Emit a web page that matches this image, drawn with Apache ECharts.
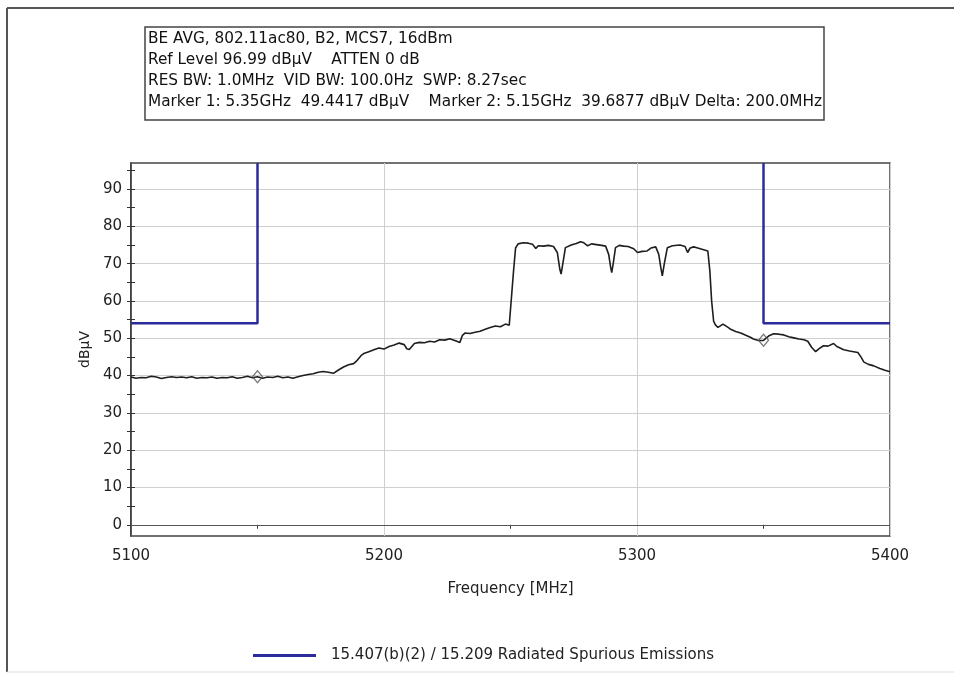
<!DOCTYPE html>
<html>
<head>
<meta charset="utf-8">
<script src="https://cdn.jsdelivr.net/npm/echarts@6/dist/echarts.min.js"></script>
<style>
  html, body { margin: 0; padding: 0; background: #fff; }
  #chart { width: 954px; height: 675px; }
</style>
</head>
<body>
<div id="chart"></div>
<script>
// Measured trace: frequency (MHz) and level (dBµV)
const traceFreq = [
  5100, 5102, 5104, 5106, 5108, 5110, 5112, 5114, 5116, 5118,
  5120, 5122, 5124, 5126, 5128, 5130, 5132, 5134, 5136, 5138,
  5140, 5142, 5144, 5146, 5148, 5150, 5152, 5154, 5156, 5158,
  5160, 5162, 5164, 5166, 5168, 5170, 5172, 5174, 5176, 5178,
  5180, 5182, 5184, 5186, 5188, 5189, 5190, 5191, 5192, 5194,
  5196, 5198, 5200, 5202, 5204, 5206, 5208, 5209, 5210, 5212,
  5214, 5216, 5218, 5220, 5222, 5224, 5226, 5228, 5230, 5231,
  5232, 5234, 5236, 5238, 5240, 5242, 5244, 5246, 5248, 5249.5,
  5250.5, 5251.2, 5252, 5253, 5255, 5257, 5258.7, 5260, 5261, 5263,
  5265, 5267, 5268.5, 5269.5, 5270, 5270.8, 5271.7, 5274, 5276, 5277.7,
  5279, 5280.5, 5282, 5284, 5286, 5287.6, 5288.8, 5289.6, 5290, 5290.6,
  5291.5, 5293, 5294.7, 5296.5, 5298.7, 5300.2, 5302, 5304, 5305.5, 5307.4,
  5308.6, 5309.4, 5310, 5310.8, 5312, 5314, 5317, 5319, 5320, 5321,
  5322.4, 5324, 5326, 5328, 5328.8, 5329.5, 5330.3, 5331, 5332, 5334,
  5336, 5337, 5339, 5341, 5343, 5345, 5346, 5348, 5350, 5352,
  5354, 5356, 5358, 5360, 5362, 5364, 5366, 5367.5, 5369, 5370.6,
  5372, 5373.7, 5375.5, 5377.7, 5379, 5381.7, 5384, 5387.3, 5388.5, 5389.7,
  5391.5, 5393.6, 5396, 5398, 5400
];
const traceLevel = [
  39.6, 39.3, 39.5, 39.4, 39.8, 39.6, 39.2, 39.5, 39.7, 39.5,
  39.6, 39.4, 39.7, 39.3, 39.5, 39.4, 39.6, 39.3, 39.5, 39.4,
  39.7, 39.3, 39.5, 39.8, 39.4, 39.69, 39.3, 39.6, 39.5, 39.8,
  39.4, 39.6, 39.3, 39.7, 40.0, 40.3, 40.5, 40.9, 41.1, 40.9,
  40.6, 41.5, 42.3, 42.9, 43.2, 43.8, 44.6, 45.4, 45.9, 46.4,
  46.9, 47.4, 47.1, 47.8, 48.2, 48.7, 48.3, 47.2, 47.0, 48.6,
  48.9, 48.8, 49.2, 49.0, 49.6, 49.5, 49.9, 49.4, 48.9, 50.8,
  51.4, 51.3, 51.6, 51.9, 52.4, 52.9, 53.3, 53.1, 53.8, 53.5,
  62.0, 68.0, 74.2, 75.3, 75.6, 75.5, 75.2, 74.1, 74.8, 74.7,
  74.9, 74.6, 73.0, 68.5, 67.2, 70.5, 74.3, 75.0, 75.4, 75.9,
  75.6, 74.8, 75.3, 75.1, 74.9, 74.7, 72.5, 69.0, 67.6, 70.0,
  74.3, 74.9, 74.7, 74.6, 74.0, 73.0, 73.3, 73.4, 74.2, 74.5,
  72.5, 69.0, 66.7, 70.0, 74.3, 74.8, 75.0, 74.6, 73.0, 74.2,
  74.5, 74.2, 73.8, 73.4, 68.0, 60.0, 54.5, 53.6, 52.9, 53.8,
  52.9, 52.4, 51.8, 51.4, 50.8, 50.2, 49.8, 49.4, 49.44, 50.6,
  51.2, 51.1, 50.9, 50.4, 50.1, 49.8, 49.6, 49.2, 47.6, 46.4,
  47.2, 48.0, 47.9, 48.6, 47.8, 46.9, 46.6, 46.2, 45.0, 43.6,
  43.0, 42.6, 41.9, 41.4, 41.0
];

// Restricted-band limit (15.407(b)(2) / 15.209): 54 dBµV outside 5150–5350 MHz
const limitName = '15.407(b)(2) / 15.209 Radiated Spurious Emissions';
const limitLowFreq = [5100, 5150, 5150];
const limitLowLevel = [54, 54, 96.99];
const limitHighFreq = [5350, 5350, 5400];
const limitHighLevel = [96.99, 54, 54];

// Markers
const markerFreq = [5350, 5150];
const markerLevel = [49.4417, 39.6877];

// Axis scale and tick labels
const refLevel = 96.99;
const bottomLevel = -3.01;
const yLabelValues = [0, 10, 20, 30, 40, 50, 60, 70, 80, 90];
const yMinorInValues = [0, 5, 10, 15, 20, 25, 30, 35, 40, 45, 50, 55, 60, 65, 70, 75, 80, 85, 90, 95];
const yMinorOutValues = [5, 15, 25, 35, 45, 55, 65, 75, 85, 95];
const xMin = 5100, xMax = 5400, xStep = 100;

// Instrument settings block
const infoLines = [
  'BE AVG, 802.11ac80, B2, MCS7, 16dBm',
  'Ref Level 96.99 dBµV    ATTEN 0 dB',
  'RES BW: 1.0MHz  VID BW: 100.0Hz  SWP: 8.27sec',
  'Marker 1: 5.35GHz  49.4417 dBµV    Marker 2: 5.15GHz  39.6877 dBµV Delta: 200.0MHz'
];

const pair = (xs, ys) => xs.map((x, i) => [x, ys[i]]);
const FONT = '"DejaVu Sans", "Liberation Sans", Arial, sans-serif';
const LIMIT_COLOR = '#2b2b9c';

const chart = echarts.init(document.getElementById('chart'), null, { renderer: 'canvas' });

const yCommon = {
  type: 'value', min: bottomLevel, max: refLevel, position: 'left',
  axisLine: { show: false }, axisLabel: { show: false }, splitLine: { show: false }
};

chart.setOption({
  animation: false,
  backgroundColor: '#fff',
  textStyle: { fontFamily: FONT },
  grid: {
    left: 131, right: 64, top: 163, bottom: 139,
    show: true, borderColor: '#444', borderWidth: 1.5, backgroundColor: 'transparent'
  },
  legend: {
    data: [limitName],
    left: 253, top: 648, padding: 0,
    icon: 'rect', itemWidth: 63, itemHeight: 3, itemGap: 18,
    textStyle: { fontFamily: FONT, fontSize: 15, color: '#222', padding: [0, 0, 0, 10] }
  },
  xAxis: {
    type: 'value', min: xMin, max: xMax, interval: xStep,
    name: 'Frequency [MHz]', nameLocation: 'middle', nameGap: 46,
    nameTextStyle: { fontFamily: FONT, fontSize: 15, color: '#222' },
    axisLine: { show: false },
    axisTick: { show: false },
    minorTick: { show: true, splitNumber: 2, length: 4, lineStyle: { color: '#333' } },
    axisLabel: { fontFamily: FONT, fontSize: 15, color: '#222', margin: 13, formatter: v => String(v) },
    splitLine: { show: true, lineStyle: { color: '#cfcfcf', width: 1 } }
  },
  yAxis: [
    {
      type: 'value', min: bottomLevel, max: refLevel,
      name: 'dBµV', nameLocation: 'middle', nameGap: 38,
      nameTextStyle: { fontFamily: FONT, fontSize: 14, color: '#222' },
      axisLine: { show: true, lineStyle: { color: '#333', width: 1.5 } },
      axisTick: { show: true, customValues: yLabelValues, length: 4, lineStyle: { color: '#333' } },
      axisLabel: { customValues: yLabelValues, fontFamily: FONT, fontSize: 15, color: '#222', margin: 9 },
      splitLine: { show: true, lineStyle: { color: '#cfcfcf', width: 1 } }
    },
    Object.assign({}, yCommon, {
      axisTick: { show: true, inside: true, customValues: yMinorInValues, length: 4, lineStyle: { color: '#333' } }
    }),
    Object.assign({}, yCommon, {
      axisTick: { show: true, inside: false, customValues: yMinorOutValues, length: 4, lineStyle: { color: '#333' } }
    })
  ],
  series: [
    {
      name: 'Trace', type: 'line', data: pair(traceFreq, traceLevel),
      showSymbol: false, symbol: 'none', z: 3,
      lineStyle: { color: '#1e1e1e', width: 1.6 },
      markLine: {
        silent: true, symbol: 'none', label: { show: false },
        lineStyle: { color: '#555', width: 1.2, type: 'solid' },
        data: [{ yAxis: 0 }]
      }
    },
    {
      name: limitName, type: 'line', data: pair(limitLowFreq, limitLowLevel),
      showSymbol: false, symbol: 'none', z: 4, color: LIMIT_COLOR,
      lineStyle: { color: LIMIT_COLOR, width: 2.5 }
    },
    {
      name: limitName, type: 'line', data: pair(limitHighFreq, limitHighLevel),
      showSymbol: false, symbol: 'none', z: 4, color: LIMIT_COLOR,
      lineStyle: { color: LIMIT_COLOR, width: 2.5 }
    },
    {
      name: 'Markers', type: 'scatter', data: pair(markerFreq, markerLevel),
      symbol: 'diamond', symbolSize: [10, 12], z: 5,
      itemStyle: { color: 'rgba(255,255,255,0)', borderColor: '#555', borderWidth: 1.3 }
    }
  ],
  graphic: [
    // outer frame
    { type: 'line', shape: { x1: 7, y1: 8, x2: 954, y2: 8 }, style: { stroke: '#555', lineWidth: 2 }, silent: true },
    { type: 'line', shape: { x1: 7, y1: 8, x2: 7, y2: 672 }, style: { stroke: '#555', lineWidth: 2 }, silent: true },
    { type: 'line', shape: { x1: 7, y1: 672, x2: 954, y2: 672 }, style: { stroke: '#ddd', lineWidth: 1 }, silent: true },
    // settings box
    { type: 'rect', shape: { x: 145, y: 27, width: 679, height: 93 }, style: { fill: '#fff', stroke: '#444', lineWidth: 1.5 }, silent: true },
    ...infoLines.map((t, i) => ({
      type: 'text', left: 148, top: 32 + i * 21, silent: true,
      style: { text: t, font: '15.3px ' + FONT, fill: '#111' }
    }))
  ]
});
</script>
</body>
</html>
